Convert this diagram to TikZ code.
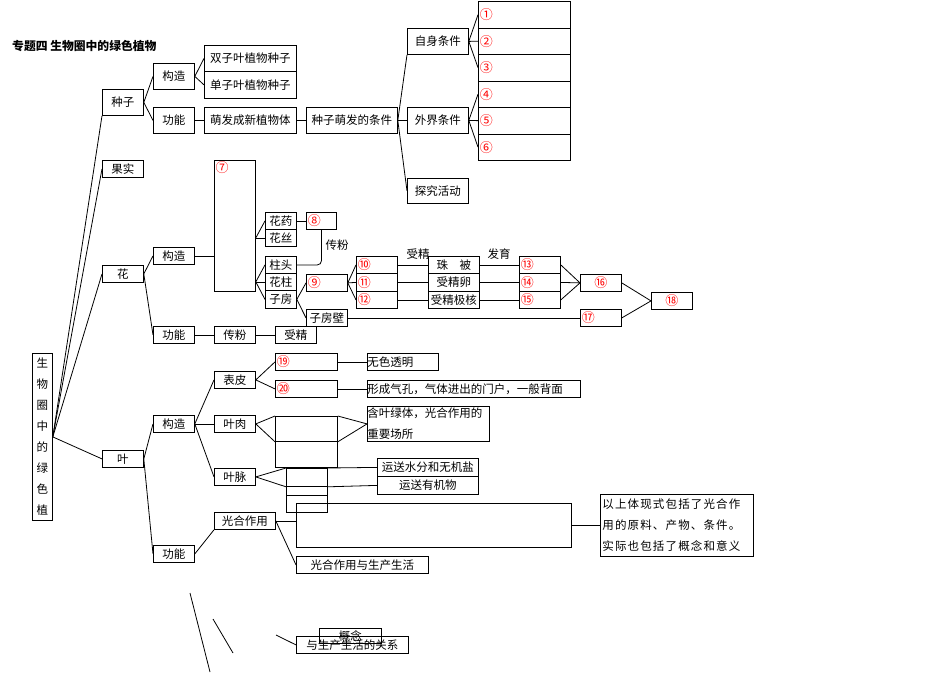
\documentclass[tikz,border=0pt]{standalone}
\usepackage{fontspec}
\setmainfont{Noto Sans CJK SC}
\tikzset{
	box/.style={draw, line width=0.8pt, inner sep=0pt, anchor=north west, font=\fontsize{11.5}{13}\selectfont},
	sz/.style 2 args={minimum width=#1pt, minimum height=#2pt},
	num/.style={text=red, font=\fontsize{13}{14}\selectfont},
	nbox/.style={box, num, align=left, inner xsep=1.5pt, text width=#1},
	lbl/.style={font=\fontsize{11.5}{13}\selectfont},
	wire/.style={line width=0.8pt}
}
\begin{document}
\begin{tikzpicture}[x=1pt, y=-1pt]
	\useasboundingbox (0,0) rectangle (950,672);

	\node[anchor=west, inner sep=0pt, font=\fontsize{11.8}{13}\bfseries] (title) at (12,46) {专题四 生物圈中的绿色植物};

	\node[box, sz={20}{167}, align=center, font=\fontsize{11.5}{21}\selectfont] (root) at (32,353) {生\\物\\圈\\中\\的\\绿\\色\\植};
	\node[box, sz={41}{26}] (zhongzi) at (102,89) {种子};
	\node[box, sz={41}{17}] (guoshi) at (102,160) {果实};
	\node[box, sz={41}{17}] (hua) at (102,265) {花};
	\node[box, sz={41}{17}] (ye) at (102,450) {叶};

	\draw[wire] (root.east) -- (zhongzi.south west);
	\draw[wire] (root.east) -- (guoshi.west);
	\draw[wire] (root.east) -- (hua.west);
	\draw[wire] (root.east) -- (ye.west);

	% seed
	\node[box, sz={41}{26}] (zzgz) at (153,63) {构造};
	\node[box, sz={41}{26}] (zzgn) at (153,107) {功能};
	\node[box, sz={92}{26}] (shuang) at (204,45) {双子叶植物种子};
	\node[box, sz={92}{27}] (dan) at (204,71) {单子叶植物种子};
	\node[box, sz={92}{26}] (mengfa) at (204,107) {萌发成新植物体};
	\node[box, sz={91}{26}] (tiaojian) at (306,107) {种子萌发的条件};
	\node[box, sz={61}{26}] (zishen) at (407,28) {自身条件};
	\node[box, sz={61}{26}] (waijie) at (407,107) {外界条件};
	\node[box, sz={61}{25}] (tanjiu) at (407,178) {探究活动};
	\node[nbox=89pt, sz={92}{26.5}] (c1) at (478,1) {①};
	\node[nbox=89pt, sz={92}{26.5}] (c2) at (478,27.5) {②};
	\node[nbox=89pt, sz={92}{26.5}] (c3) at (478,54) {③};
	\node[nbox=89pt, sz={92}{26.5}] (c4) at (478,80.5) {④};
	\node[nbox=89pt, sz={92}{26.5}] (c5) at (478,107) {⑤};
	\node[nbox=89pt, sz={92}{26.5}] (c6) at (478,133.5) {⑥};

	\draw[wire] (zhongzi.east) -- (zzgz.west);
	\draw[wire] (zhongzi.east) -- (zzgn.west);
	\draw[wire] (zzgz.east) -- (shuang.west);
	\draw[wire] (zzgz.east) -- (dan.west);
	\draw[wire] (zzgn) -- (mengfa);
	\draw[wire] (mengfa) -- (tiaojian);
	\draw[wire] (tiaojian.east) -- (zishen.south west);
	\draw[wire] (tiaojian.east) -- (waijie.west);
	\draw[wire] (tiaojian.east) -- (tanjiu.west);
	\draw[wire] (zishen.east) -- (c1.west);
	\draw[wire] (zishen.east) -- (c2.west);
	\draw[wire] (zishen.east) -- (c3.west);
	\draw[wire] (waijie.east) -- (c4.west);
	\draw[wire] (waijie.east) -- (c5.west);
	\draw[wire] (waijie.east) -- (c6.west);

	% flower
	\node[box, sz={41}{17}] (huagz) at (153,247) {构造};
	\node[box, sz={41}{17}] (huagn) at (153,326) {功能};
	\node[box, sz={41}{131}, label={[num, anchor=north west, inner sep=1.5pt]north west:⑦}] (qi) at (214,160) {};
	\node[box, sz={31}{17}] (huayao) at (265,212) {花药};
	\node[box, sz={31}{17}] (huasi) at (265,229) {花丝};
	\node[box, sz={31}{17}] (zhutou) at (265,256) {柱头};
	\node[box, sz={31}{17}] (huazhu) at (265,273) {花柱};
	\node[box, sz={31}{18}] (zifang) at (265,290) {子房};
	\node[nbox=27pt, sz={30}{17}] (c8) at (306,212) {⑧};
	\node[nbox=38pt, sz={41}{17}] (c9) at (306,274) {⑨};
	\node[box, sz={41}{17}] (zifangbi) at (306,309) {子房壁};
	\node[nbox=38pt, sz={41}{17}] (c10) at (356,256) {⑩};
	\node[nbox=38pt, sz={41}{18}] (c11) at (356,273) {⑪};
	\node[nbox=38pt, sz={41}{17}] (c12) at (356,291) {⑫};
	\node[box, sz={51}{17}] (zhubei) at (428,256) {珠\hspace{1em}被};
	\node[box, sz={51}{18}] (luan) at (428,273) {受精卵};
	\node[box, sz={51}{17}] (jihe) at (428,291) {受精极核};
	\node[nbox=38pt, sz={41}{17}] (c13) at (519,256) {⑬};
	\node[nbox=38pt, sz={41}{18}] (c14) at (519,273) {⑭};
	\node[nbox=38pt, sz={41}{17}] (c15) at (519,291) {⑮};
	\node[box, num, sz={41}{17}] (c16) at (580,274) {⑯};
	\node[nbox=38pt, sz={41}{17}] (c17) at (580,309) {⑰};
	\node[box, num, sz={41}{17}] (c18) at (651,292) {⑱};
	\node[lbl] (chuanfenlbl) at (337,245) {传粉};
	\node[lbl] (shoujinglbl) at (418,254) {受精};
	\node[lbl] (fayulbl) at (499,254) {发育};
	\node[box, sz={41}{17}] (chuanfen) at (214,326) {传粉};
	\node[box, sz={41}{17}] (shoujing) at (275,326) {受精};

	\draw[wire] (hua.east) -- (huagz.west);
	\draw[wire] (hua.east) -- (huagn.west);
	\draw[wire] (huagz.east) -- (huagz.east -| qi.west);
	\draw[wire] (qi.east |- huasi.west) -- (huayao.west);
	\draw[wire] (qi.east |- huasi.west) -- (huasi.west);
	\draw[wire] (qi.east |- huazhu.west) -- (zhutou.west);
	\draw[wire] (qi.east |- huazhu.west) -- (huazhu.west);
	\draw[wire] (qi.east |- huazhu.west) -- (zifang.west);
	\draw[wire] (huayao) -- (c8);
	\draw[wire, rounded corners=4pt] (zhutou.east) -| (c8.south);
	\draw[wire] (zifang.east) -- (c9.west);
	\draw[wire] (zifang.east) -- (zifangbi.west);
	\draw[wire] (c9.east) -- (c10.west);
	\draw[wire] (c9.east) -- (c11.west);
	\draw[wire] (c9.east) -- (c12.west);
	\draw[wire] (c10) -- (zhubei);
	\draw[wire] (c11) -- (luan);
	\draw[wire] (c12) -- (jihe);
	\draw[wire] (zhubei) -- (c13);
	\draw[wire] (luan) -- (c14);
	\draw[wire] (jihe) -- (c15);
	\draw[wire] (c13.east) -- (c16.west);
	\draw[wire] (c14.east) -- (c16.west);
	\draw[wire] (c15.east) -- (c16.west);
	\draw[wire] (zifangbi.east) -- (c17.west);
	\draw[wire] (c16.east) -- (c18.west);
	\draw[wire] (c17.east) -- (c18.west);
	\draw[wire] (huagn) -- (chuanfen);
	\draw[wire] (chuanfen) -- (shoujing);

	% leaf
	\node[box, sz={41}{17}] (yegz) at (153,415) {构造};
	\node[box, sz={41}{17}] (yegn) at (153,545) {功能};
	\node[box, sz={41}{17}] (biaopi) at (214,371) {表皮};
	\node[box, sz={41}{17}] (yerou) at (214,415) {叶肉};
	\node[box, sz={41}{17}] (yemai) at (214,468) {叶脉};
	\node[nbox=59pt, sz={62}{17}] (c19) at (275,353) {⑲};
	\node[nbox=59pt, sz={62}{17}] (c20) at (275,380) {⑳};
	\node[box, sz={71}{17}, align=left, text width=71pt] (wuse) at (367,353) {无色透明};
	\node[box, sz={213}{17}, align=left, text width=213pt] (qikong) at (367,380) {形成气孔，气体进出的门户，一般背面};
	\node[box, sz={62}{25}] (rou1) at (275,416) {};
	\node[box, sz={62}{26}] (rou2) at (275,441) {};
	\node[box, sz={122}{35}, align=left, text width=122pt, font=\fontsize{11.5}{21}\selectfont] (hanye) at (367,406) {含叶绿体，光合作用的\\重要场所};
	\node[box, sz={41}{18}] (mai1) at (286,468) {};
	\node[box, sz={41}{9}] (mai2) at (286,486) {};
	\node[box, sz={41}{17}] (mai3) at (286,495) {};
	\node[box, sz={101}{18}] (shuifen) at (377,458) {运送水分和无机盐};
	\node[box, sz={101}{18}] (youji) at (377,476) {运送有机物};
	\node[box, sz={61}{17}] (guanghe) at (214,512) {光合作用};
	\node[box, sz={275}{44}] (bigbox) at (296,503) {};
	\node[box, sz={153}{62}, align=left, text width=149pt, inner xsep=2pt, font=\fontsize{11.5}{21}\selectfont\addfontfeatures{LetterSpace=10}] (yishang) at (600,494) {以上体现式包括了光合作\\用的原料、产物、条件。\\实际也包括了概念和意义};
	\node[box, sz={132}{17}] (shengchan) at (296,556) {光合作用与生产生活};
	\node[box, sz={112}{17}] (guanxi) at (296,636) {与生产生活的关系};
	\node[box, sz={62}{15}] (gainian) at (319,628) {概念};

	\draw[wire] (ye.east) -- (yegz.west);
	\draw[wire] (ye.east) -- (yegn.west);
	\draw[wire] (yegz.east) -- (biaopi.west);
	\draw[wire] (yegz.east) -- (yerou.west);
	\draw[wire] (yegz.east) -- (yemai.west);
	\draw[wire] (biaopi.east) -- (c19.west);
	\draw[wire] (biaopi.east) -- (c20.west);
	\draw[wire] (c19) -- (wuse);
	\draw[wire] (c20) -- (qikong);
	\draw[wire] (yerou.east) -- (rou1.north west);
	\draw[wire] (yerou.east) -- (rou1.south west);
	\draw[wire] (rou1.north east) -- (hanye.west);
	\draw[wire] (rou1.south east) -- (hanye.west);
	\draw[wire] (yemai.east) -- (mai1.north west);
	\draw[wire] (yemai.east) -- (mai1.south west);
	\draw[wire] (mai1.north east) -- (shuifen.west);
	\draw[wire] (mai1.south east) -- (youji.west);
	\draw[wire] (yegn.east) -- (guanghe.south west);
	\draw[wire] (guanghe.east) -- (guanghe.east -| bigbox.west);
	\draw[wire] (bigbox.east) -- (yishang.west);
	\draw[wire] (guanghe.east) -- (shengchan.west);

	\coordinate (s1a) at (190,593);
	\coordinate (s1b) at (210,672);
	\coordinate (s2a) at (213,619);
	\coordinate (s2b) at (233,653);
	\coordinate (s3a) at (276,635);
	\draw[wire] (s1a) -- (s1b);
	\draw[wire] (s2a) -- (s2b);
	\draw[wire] (s3a) -- (guanxi.west);
\end{tikzpicture}
\end{document}
